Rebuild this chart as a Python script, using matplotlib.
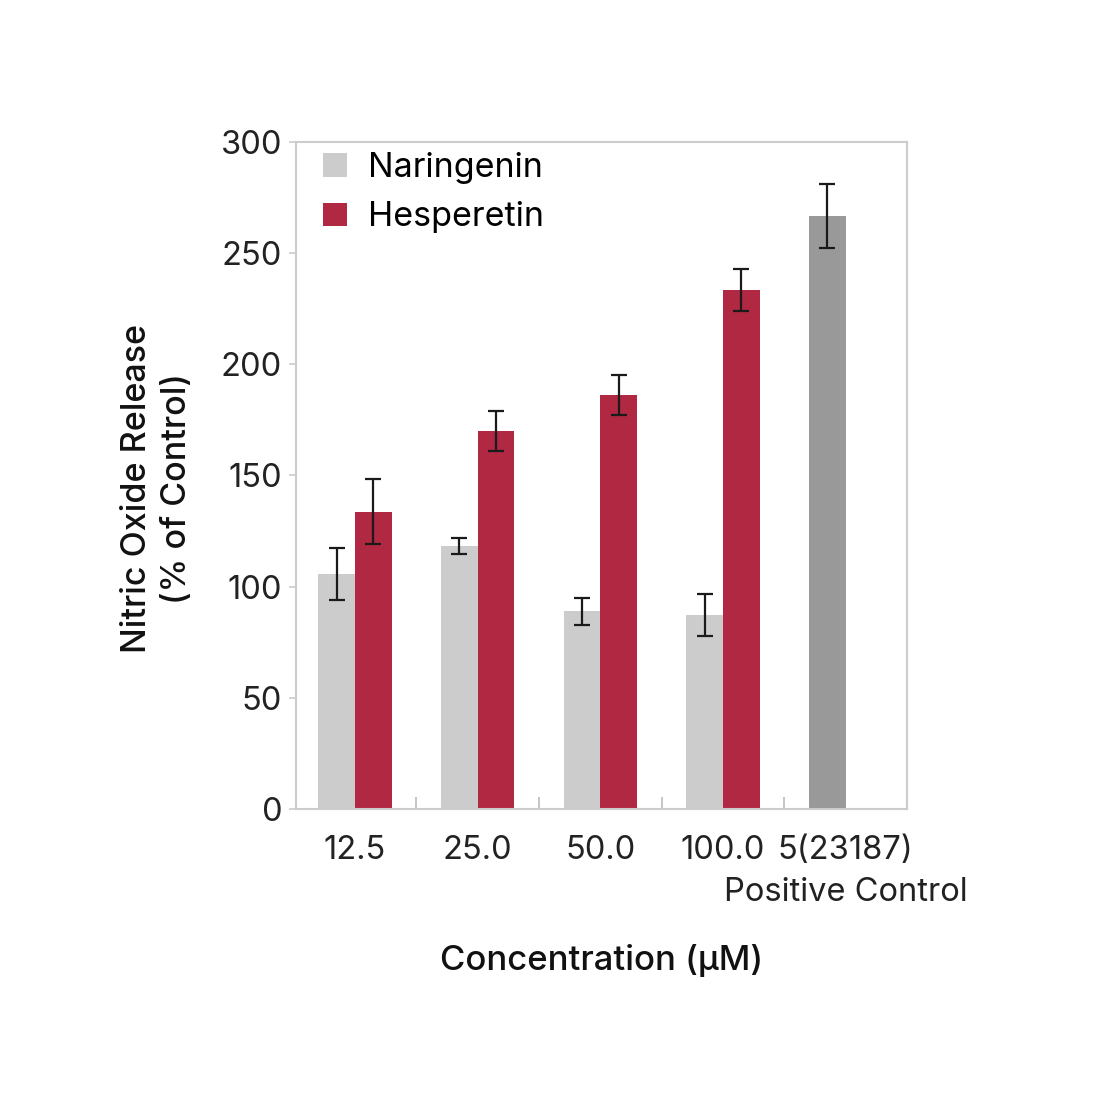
import numpy as np
import matplotlib.pyplot as plt

plt.rcParams['font.family'] = ['Inter', 'DejaVu Sans']

groups = ['12.5', '25.0', '50.0', '100.0']
naringenin = [105.7, 118.3, 89.0, 87.3]
naringenin_err = [11.9, 3.6, 6.1, 9.4]
hesperetin = [133.6, 170.0, 186.2, 233.5]
hesperetin_err = [14.6, 9.2, 9.0, 9.4]
control_label = '5(23187)'
control_note = 'Positive Control'
control_value = 266.8
control_err = 14.4

fig = plt.figure(figsize=(11.1, 11.04), dpi=100)
ax = fig.add_axes([0.2667, 0.2672, 0.5505, 0.6042])

x = np.arange(len(groups))
w = 0.3
ekw = dict(ecolor='#1a1a1a', elinewidth=1.6, capsize=5.5, capthick=1.6)
ax.bar(x - w / 2, naringenin, w, color='#cccccc', yerr=naringenin_err,
       error_kw=ekw, label='Naringenin')
ax.bar(x + w / 2, hesperetin, w, color='#b02842', yerr=hesperetin_err,
       error_kw=ekw, label='Hesperetin')
ax.bar(len(groups) - w / 2, control_value, w, color='#999999',
       yerr=control_err, error_kw=ekw)

ax.set_xlim(-0.48, 4.5)
ax.set_ylim(0, 300)
ax.set_yticks(range(0, 301, 50))
ax.set_xticks(list(x) + [len(groups)])
ax.set_xticklabels(groups + [control_label], fontsize=23.5, color='#222222')
ax.set_xticks(x + 0.5, minor=True)
ax.tick_params(axis='x', which='major', length=0, pad=19)
ax.tick_params(axis='x', which='minor', direction='in', length=9,
               color='#bbbbbb', width=1.2)
ax.tick_params(axis='y', length=5, color='#cccccc', width=1.2, pad=5,
               labelsize=23.5, labelcolor='#222222')
for s in ax.spines.values():
    s.set_color('#cccccc')
    s.set_linewidth(1.5)

# second line under the control tick label
ax.text(len(groups), -37.5, control_note, ha='center', va='center',
        fontsize=23.5, color='#222222')

ax.set_ylabel('Nitric Oxide Release\n(% of Control)', fontsize=24.5,
              color='#111111', labelpad=20, linespacing=1.32, fontweight='medium')
ax.yaxis.label.set_y(0.481)
ax.set_xlabel('Concentration (\u00b5M)', fontsize=25, color='#111111',
              labelpad=56, fontweight='medium')

ax.legend(loc='upper left', frameon=False, fontsize=24.5, handlelength=0.7,
          handleheight=0.7, handletextpad=0.6, labelspacing=0.5,
          borderaxespad=0.1, bbox_to_anchor=(0.017, 1.01))

fig.savefig('out.png', dpi=100)
